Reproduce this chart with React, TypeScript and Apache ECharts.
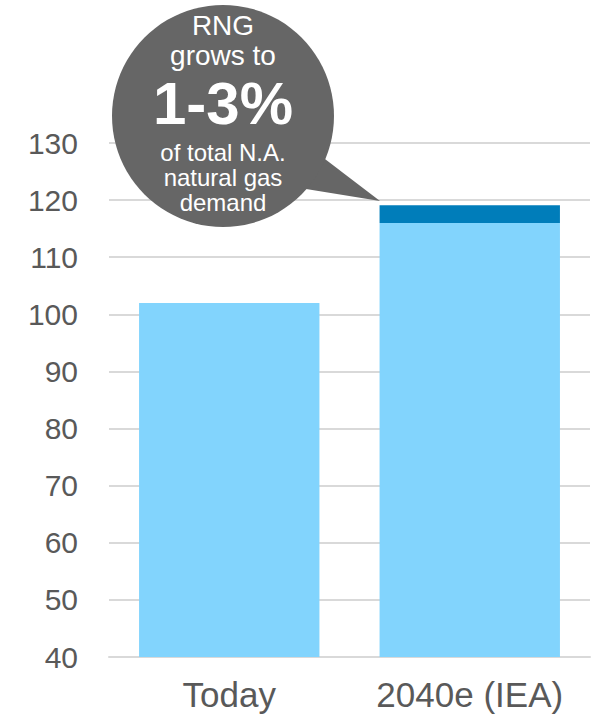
import React, { useEffect, useRef } from "react";
import * as echarts from "echarts";

const categories = ["Today", "2040e (IEA)"];
const baseDemand = [102, 116];
const rngDemand = [null, 3.1];
const yMin = 40;
const yMax = 130;
const yInterval = 10;
const bubbleLines = ["RNG", "grows to", "1-3%", "of total N.A.", "natural gas", "demand"];

export default function App() {
  const ref = useRef<HTMLDivElement>(null);
  useEffect(() => {
    if (!ref.current) return;
    const chart = echarts.init(ref.current, null, { renderer: "svg" });
    const font = "Liberation Sans, Arial, sans-serif";
    const cx = 223;
    const cy = 116;
    const txt = (y: number, text: string, f: string) => ({
      type: "text",
      z: 100,
      x: cx,
      y,
      style: { text, fill: "#fff", font: f, textAlign: "center", textVerticalAlign: "middle" },
    });
    chart.setOption({
      animation: false,
      grid: { left: 109, right: 10, top: 143, bottom: 61 },
      xAxis: {
        type: "category",
        data: categories,
        axisTick: { show: false },
        axisLine: { lineStyle: { color: "#D9D9D9", width: 2 } },
        axisLabel: { color: "#595959", fontSize: 35, fontFamily: font, margin: 20, interval: 0 },
      },
      yAxis: {
        type: "value",
        min: yMin,
        max: yMax,
        interval: yInterval,
        axisLine: { show: false },
        axisTick: { show: false },
        splitLine: { lineStyle: { color: "#D9D9D9", width: 2 } },
        axisLabel: { color: "#595959", fontSize: 30, fontFamily: font, margin: 31 },
      },
      series: [
        {
          type: "bar",
          stack: "total",
          data: baseDemand,
          barWidth: "75%",
          itemStyle: { color: "#82D4FD" },
        },
        {
          type: "bar",
          stack: "total",
          data: rngDemand,
          barWidth: "75%",
          itemStyle: { color: "#007DBA" },
        },
      ],
      graphic: [
        {
          type: "polygon",
          z: 100,
          shape: { points: [[300, 140], [380, 201], [300, 188]] },
          style: { fill: "#666666" },
        },
        {
          type: "circle",
          z: 100,
          shape: { cx, cy, r: 111 },
          style: { fill: "#666666" },
        },
        txt(25, bubbleLines[0], `28px ${font}`),
        txt(55, bubbleLines[1], `28px ${font}`),
        txt(103, bubbleLines[2], `bold 60px ${font}`),
        txt(152, bubbleLines[3], `24px ${font}`),
        txt(177, bubbleLines[4], `24px ${font}`),
        txt(202, bubbleLines[5], `24px ${font}`),
      ],
    });
    return () => chart.dispose();
  }, []);
  return (
    <div
      ref={ref}
      style={{ position: "fixed", left: 0, top: 0, width: 600, height: 718, background: "#fff" }}
    />
  );
}
